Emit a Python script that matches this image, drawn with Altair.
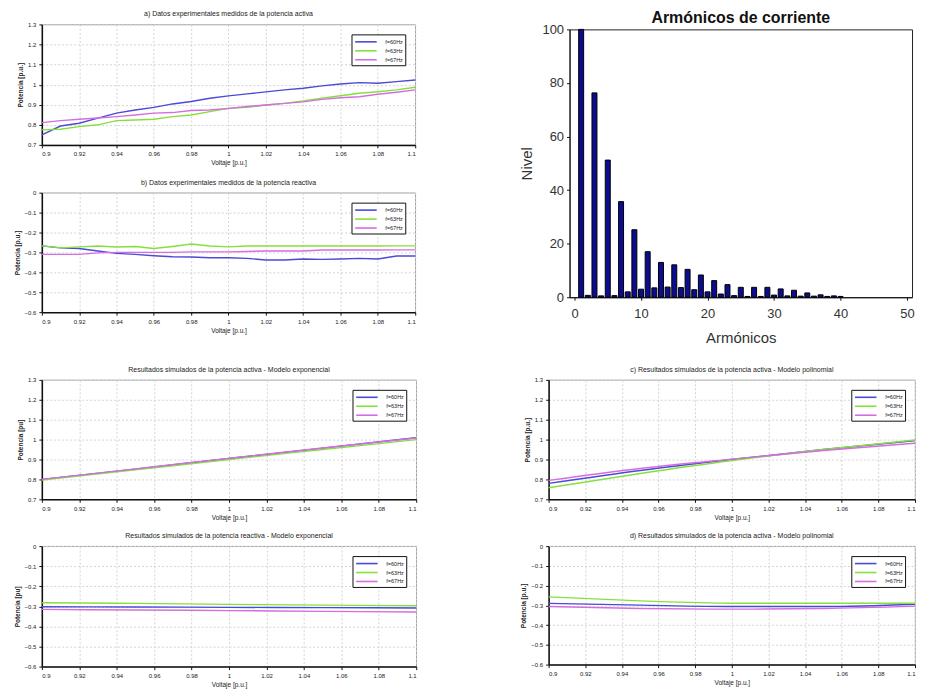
import altair as alt
import pandas as pd

# ---------------- data ----------------
series_labels = ["f=60Hz", "f=63Hz", "f=67Hz"]
series_colors = ["#4a4ad6", "#86e03c", "#d46ee0"]

volt_meas = [0.90, 0.91, 0.92, 0.93, 0.94, 0.95, 0.96, 0.97, 0.98, 0.99, 1.00,
             1.01, 1.02, 1.03, 1.04, 1.05, 1.06, 1.07, 1.08, 1.09, 1.10]

a_60 = [0.750, 0.794, 0.808, 0.833, 0.858, 0.874, 0.887, 0.904, 0.916, 0.932, 0.944,
        0.954, 0.964, 0.974, 0.982, 0.994, 1.003, 1.010, 1.007, 1.015, 1.023]
a_63 = [0.775, 0.778, 0.791, 0.800, 0.821, 0.824, 0.828, 0.841, 0.849, 0.866, 0.882,
        0.887, 0.899, 0.907, 0.919, 0.932, 0.945, 0.957, 0.965, 0.974, 0.987]
a_67 = [0.811, 0.821, 0.828, 0.834, 0.841, 0.849, 0.858, 0.861, 0.871, 0.874, 0.882,
        0.891, 0.899, 0.907, 0.914, 0.927, 0.935, 0.940, 0.952, 0.962, 0.974]

b_60 = [-0.267, -0.277, -0.280, -0.293, -0.305, -0.310, -0.317, -0.322, -0.323, -0.327, -0.327,
        -0.330, -0.338, -0.338, -0.333, -0.335, -0.333, -0.330, -0.333, -0.318, -0.318]
b_63 = [-0.267, -0.277, -0.272, -0.268, -0.273, -0.270, -0.280, -0.270, -0.258, -0.268, -0.272,
        -0.268, -0.268, -0.268, -0.268, -0.268, -0.268, -0.268, -0.268, -0.267, -0.267]
b_67 = [-0.310, -0.310, -0.310, -0.302, -0.300, -0.300, -0.300, -0.300, -0.297, -0.297, -0.297,
        -0.295, -0.293, -0.293, -0.293, -0.288, -0.288, -0.288, -0.288, -0.287, -0.287]

volt_sim = [0.90, 0.95, 1.00, 1.05, 1.10]

e_60 = [0.800, 0.852, 0.905, 0.957, 1.010]
e_63 = [0.797, 0.848, 0.900, 0.950, 1.000]
e_67 = [0.800, 0.853, 0.906, 0.958, 1.008]

f_60 = [-0.302, -0.303, -0.305, -0.306, -0.308]
f_63 = [-0.282, -0.285, -0.290, -0.294, -0.297]
f_67 = [-0.315, -0.318, -0.321, -0.325, -0.328]

c_60 = [0.780, 0.845, 0.900, 0.950, 0.995]
c_63 = [0.758, 0.830, 0.895, 0.950, 0.998]
c_67 = [0.795, 0.855, 0.902, 0.945, 0.982]

d_60 = [-0.290, -0.299, -0.306, -0.306, -0.294]
d_63 = [-0.257, -0.277, -0.289, -0.289, -0.289]
d_67 = [-0.306, -0.316, -0.319, -0.316, -0.304]

harmonics = list(range(1, 41))
nivel = [100, 0.7, 76.3, 0.5, 51.2, 0.6, 35.7, 2.0, 25.2, 3.0,
         17.0, 3.5, 13.0, 3.8, 12.1, 3.6, 10.4, 2.8, 8.3, 2.0,
         6.2, 1.2, 4.7, 0.6, 3.7, 0.3, 3.7, 0.3, 3.7, 0.8,
         3.1, 0.5, 2.6, 0.4, 1.6, 0.4, 0.9, 0.3, 0.5, 0.3]
bar_title = ["Armónicos de corriente"]

x_ticks = [0.9, 0.92, 0.94, 0.96, 0.98, 1.0, 1.02, 1.04, 1.06, 1.08, 1.1]
y_ticks_p = [0.7, 0.8, 0.9, 1.0, 1.1, 1.2, 1.3]
y_ticks_q = [0, -0.1, -0.2, -0.3, -0.4, -0.5, -0.6]

FONT = "Liberation Sans"


def make_df(x, ys):
    rows = []
    for lab, ser in zip(series_labels, ys):
        for xv, yv in zip(x, ser):
            rows.append({"V": xv, "P": yv, "serie": lab})
    return pd.DataFrame(rows)


def small(df, title, ytitle, ydomain, yticks, w, h, interp="linear"):
    return alt.Chart(df).mark_line(strokeWidth=1.4, interpolate=interp).encode(
        x=alt.X("V:Q",
                scale=alt.Scale(domain=[0.9, 1.1], nice=False, zero=False),
                axis=alt.Axis(values=x_ticks, format="~g", title="Voltaje [p.u.]",
                              labelFontSize=6, titleFontSize=6.5, titleFontWeight="normal",
                              labelPadding=3, titlePadding=3, tickSize=3,
                              grid=True, gridDash=[2, 2], gridColor="#d4d4d4",
                              domainColor="#111", domainWidth=1.5, tickColor="#111",
                              labelColor="#222", titleColor="#222", labelFont=FONT, titleFont=FONT)),
        y=alt.Y("P:Q",
                scale=alt.Scale(domain=ydomain, nice=False, zero=False),
                axis=alt.Axis(values=yticks, format="~g", title=ytitle,
                              labelFontSize=6, titleFontSize=6.5, titleFontWeight="bold",
                              labelPadding=3, titlePadding=4, tickSize=3,
                              grid=True, gridDash=[2, 2], gridColor="#d4d4d4",
                              domainColor="#111", domainWidth=1.5, tickColor="#111",
                              labelColor="#222", titleColor="#222", labelFont=FONT, titleFont=FONT)),
        color=alt.Color("serie:N",
                        scale=alt.Scale(domain=series_labels, range=series_colors),
                        legend=alt.Legend(orient="top-right", title=None, offset=10,
                                          fillColor="white", strokeColor="#111",
                                          padding=2, rowPadding=0,
                                          symbolType="M-2.4,0H2.4", symbolSize=81,
                                          symbolStrokeWidth=1.6, symbolOffset=7,
                                          labelOffset=14, labelFontSize=5.5, labelFont=FONT,
                                          labelColor="#222")),
    ).properties(
        width=w, height=h,
        title=alt.TitleParams(title, fontSize=7, fontWeight="normal", font=FONT,
                              color="#222", offset=4),
    )


pa = small(make_df(volt_meas, [a_60, a_63, a_67]),
           "a) Datos experimentales medidos de la potencia activa",
           "Potencia [p.u.]", [0.7, 1.3], y_ticks_p, 375, 121)
pb = small(make_df(volt_meas, [b_60, b_63, b_67]),
           "b) Datos experimentales medidos de la potencia reactiva",
           "Potencia [p.u.]", [-0.6, 0], y_ticks_q, 375, 120)
pe = small(make_df(volt_sim, [e_60, e_63, e_67]),
           "Resultados simulados de la potencia activa - Modelo exponencial",
           "Potencia [pu]", [0.7, 1.3], y_ticks_p, 376, 120, "monotone")
pf = small(make_df(volt_sim, [f_60, f_63, f_67]),
           "Resultados simulados de la potencia reactiva - Modelo exponencial",
           "Potencia [pu]", [-0.6, 0], y_ticks_q, 376, 121, "monotone")
pc = small(make_df(volt_sim, [c_60, c_63, c_67]),
           "c) Resultados simulados de la potencia activa - Modelo polinomial",
           "Potencia [p.u.]", [0.7, 1.3], y_ticks_p, 368, 120, "monotone")
pd_ = small(make_df(volt_sim, [d_60, d_63, d_67]),
            "d) Resultados simulados de la potencia activa - Modelo polinomial",
            "Potencia [p.u.]", [-0.6, 0], y_ticks_q, 368, 119, "monotone")

bar_df = pd.DataFrame({"h": harmonics, "n": nivel})
bar_marks = alt.Chart(bar_df).mark_bar(size=5, color="#0c0c8e", stroke="#000", strokeWidth=1).encode(
    x=alt.X("h:Q", scale=alt.Scale(domain=[0, 50], nice=False),
            axis=alt.Axis(values=[0, 10, 20, 30, 40, 50], title="Armónicos", grid=False,
                          labelFontSize=13, titleFontSize=15, titleFontWeight="normal",
                          labelColor="#333", titleColor="#333", labelFont=FONT, titleFont=FONT,
                          domainColor="#111", tickColor="#111", tickSize=3,
                          labelPadding=7, titlePadding=10)),
    y=alt.Y("n:Q", scale=alt.Scale(domain=[0, 100], nice=False),
            axis=alt.Axis(values=[0, 20, 40, 60, 80, 100], title="Nivel", grid=False,
                          labelFontSize=13, titleFontSize=15, titleFontWeight="normal",
                          labelColor="#333", titleColor="#333", labelFont=FONT, titleFont=FONT,
                          domainColor="#111", tickColor="#111", tickSize=3,
                          labelPadding=3, titlePadding=8)),
)
bar_title_mark = alt.Chart(pd.DataFrame({"t": bar_title})).mark_text(
    fontSize=16, fontWeight="bold", font=FONT, color="#111",
    align="center", baseline="alphabetic",
).encode(text="t:N", x=alt.value(172), y=alt.value(-6))

bars = alt.layer(bar_marks, bar_title_mark).properties(
    width=344, height=269, view=alt.ViewBackground(stroke="#222", strokeWidth=1))

spacer = alt.Chart(pd.DataFrame({"s": [0]})).mark_point(opacity=0).encode(
    x=alt.X("s:Q", axis=None), y=alt.Y("s:Q", axis=None),
).properties(width=344, height=1, view=alt.ViewBackground(stroke="transparent"))

right_top = alt.vconcat(spacer, bars, spacing=4, bounds="flush")

left_top = alt.vconcat(pa, pb, spacing=11).resolve_scale(color="independent").resolve_legend(color="independent")
top_row = alt.hconcat(left_top, right_top, spacing=99).resolve_scale(color="independent").resolve_legend(color="independent")
left_bot = alt.vconcat(pe, pf, spacing=10).resolve_scale(color="independent").resolve_legend(color="independent")
right_bot = alt.vconcat(pc, pd_, spacing=10).resolve_scale(color="independent").resolve_legend(color="independent")
bot_row = alt.hconcat(left_bot, right_bot, spacing=100).resolve_scale(color="independent").resolve_legend(color="independent")

chart = alt.vconcat(top_row, bot_row, spacing=19).resolve_scale(
    color="independent").resolve_legend(color="independent").properties(
    padding={"left": 5, "top": 0, "right": 0, "bottom": 0},
    background="white",
).configure_view(stroke="#888", strokeWidth=0.8).configure_concat(spacing=10)

chart.save("out.html", embed_options={"renderer": "svg", "actions": False})
